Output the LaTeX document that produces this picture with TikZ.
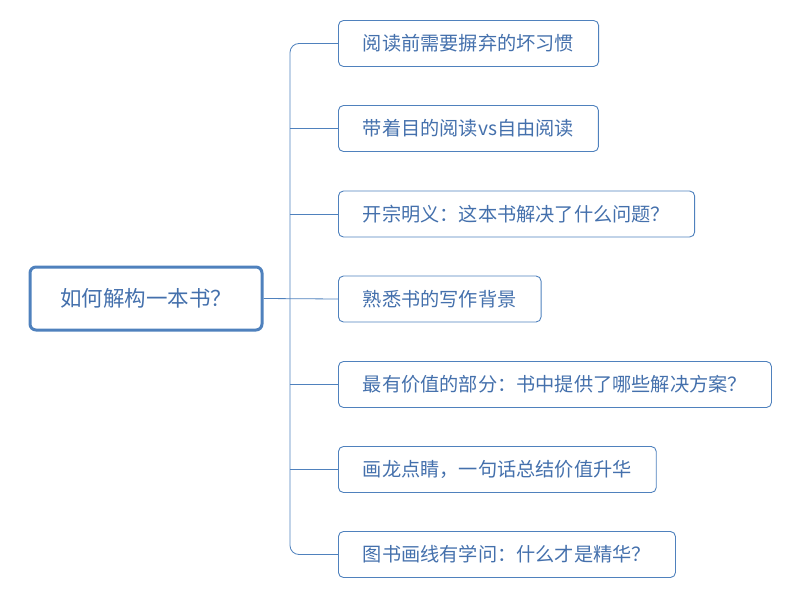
\documentclass[tikz,border=0pt]{standalone}
\usepackage{fontspec}
\newfontfamily\cjk{Noto Sans CJK SC}
\definecolor{lineblue}{HTML}{4F81BD}
\definecolor{txtblue}{HTML}{4470AC}
\begin{document}
\begin{tikzpicture}[x=1pt,y=-1pt,
  child/.style={draw=lineblue, line width=0.9pt, rounded corners=5pt, anchor=west,
    minimum height=46pt, inner xsep=24.5pt, inner ysep=0pt,
    font=\cjk\fontsize{19.2}{21}\selectfont, text=txtblue},
  rootbox/.style={draw=lineblue, line width=3pt, rounded corners=6pt,
    minimum width=232pt, minimum height=63pt, inner sep=0pt,
    font=\cjk\fontsize{21.5}{23}\selectfont, text=txtblue},
  conn/.style={draw=lineblue, line width=0.8pt}]
\useasboundingbox (0,0) rectangle (800,599);
\node[rootbox] (root) at (146,298.5) {如何解构一本书？};
\node[child] (c1) at (338,43.5) {阅读前需要摒弃的坏习惯};
\node[child] (c2) at (338,128.5) {带着目的阅读vs自由阅读};
\node[child] (c3) at (338,214) {开宗明义：这本书解决了什么问题？};
\node[child] (c4) at (338,299) {熟悉书的写作背景};
\node[child] (c5) at (338,384.5) {最有价值的部分：书中提供了哪些解决方案？};
\node[child] (c6) at (338,469.5) {画龙点睛，一句话总结价值升华};
\node[child] (c7) at (338,554.5) {图书画线有学问：什么才是精华？};
\draw[conn, rounded corners=9pt] (c1.west) -| ([xshift=-48pt]c7.west) -- (c7.west);
\draw[conn] (c2.west) -- ++(-48,0);
\draw[conn] (c3.west) -- ++(-48,0);
\draw[conn] (c5.west) -- ++(-48,0);
\draw[conn] (c6.west) -- ++(-48,0);
\draw[conn] (root.east) -- (c4.west);
\end{tikzpicture}
\end{document}
